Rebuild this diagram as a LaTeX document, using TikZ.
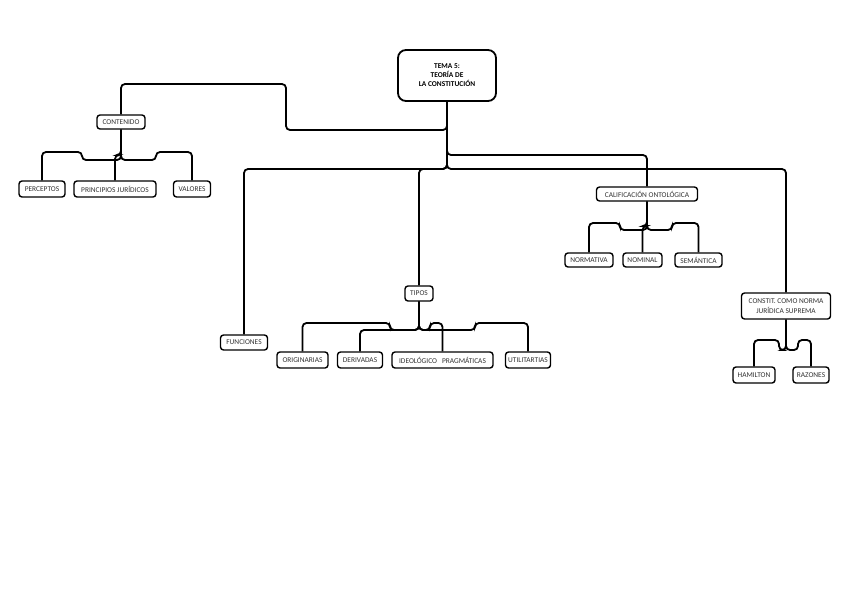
\documentclass[tikz,border=0pt]{standalone}
\usepackage{fontspec}
\setmainfont{Carlito}
\begin{document}
\begin{tikzpicture}[x=1pt,y=-1pt,
  box/.style={draw=black,line width=1.4pt,rounded corners=3pt,inner sep=0pt,align=center,font=\fontsize{7.4}{8.4}\selectfont,text=black!80},
  link/.style={draw=black,line width=1.8pt,rounded corners=4pt}]
\useasboundingbox[fill=white] (0,0) rectangle (848,600);
% nodes
\node[box,minimum width=98pt,minimum height=51pt,rounded corners=8pt,line width=1.8pt,font=\bfseries\fontsize{7.4}{9}\selectfont,text=black] (tema) at (447,75.5) {TEMA 5:\\TEORÍA DE\\LA CONSTITUCIÓN};
\node[box,minimum width=48pt,minimum height=14pt] (contenido) at (121,122) {CONTENIDO};
\node[box,minimum width=46pt,minimum height=16pt] (perceptos) at (42,189) {PERCEPTOS};
\node[box,minimum width=82pt,minimum height=16pt] (principios) at (115,189) {PRINCIPIOS JURÍDICOS};
\node[box,minimum width=37pt,minimum height=16pt] (valores) at (192,189) {VALORES};
\node[box,minimum width=47pt,minimum height=15pt] (funciones) at (244,342.5) {FUNCIONES};
\node[box,minimum width=28pt,minimum height=15pt] (tipos) at (419,293.5) {TIPOS};
\node[box,minimum width=51pt,minimum height=16pt] (originarias) at (302.5,360) {ORIGINARIAS};
\node[box,minimum width=45pt,minimum height=16pt] (derivadas) at (360,360) {DERIVADAS};
\node[box,minimum width=101pt,minimum height=16pt] (ideo) at (442.5,360) {IDEOLÓGICO\hspace{5pt}PRAGMÁTICAS};
\node[box,minimum width=45pt,minimum height=16pt] (util) at (528,360) {UTILITARTIAS};
\node[box,minimum width=101pt,minimum height=14pt] (calif) at (647,194) {CALIFICACIÓN ONTOLÓGICA};
\node[box,minimum width=48pt,minimum height=14pt] (normativa) at (589,260) {NORMATIVA};
\node[box,minimum width=39pt,minimum height=14pt] (nominal) at (642.5,260) {NOMINAL};
\node[box,minimum width=47pt,minimum height=14pt] (semantica) at (698.5,260) {SEMÁNTICA};
\node[box,minimum width=89pt,minimum height=26pt,font=\fontsize{7.4}{9.5}\selectfont] (constit) at (786,306) {CONSTIT. COMO NORMA\\JURÍDICA SUPREMA};
\node[box,minimum width=42pt,minimum height=16pt] (hamilton) at (754,375) {HAMILTON};
\node[box,minimum width=36pt,minimum height=16pt] (razones) at (811,375) {RAZONES};
% main connectors
\draw[link] (tema.south) -- (447,130) -- (286,130) -- (286,84) -- (121,84) -- (contenido.north);
\draw[link] (tema.south) -- (447,169) -- (244,169) -- (funciones.north);
\draw[link] (tema.south) -- (447,169) -- (419,169) -- (tipos.north);
\draw[link] (tema.south) -- (447,155) -- (647,155) -- (calif.north);
\draw[link] (tema.south) -- (447,169) -- (786,169) -- (constit.north);
% contenido
\draw[link] (contenido.south) -- (121,160) -- (82,160) -- (82,152) -- (42,152) -- (perceptos.north);
\draw[link] (contenido.south) -- (121,160) -- (156,160) -- (156,152) -- (192,152) -- (valores.north);
\draw[link] (contenido.south) -- (121,155) -- (115,155) -- (principios.north);
% calificacion
\draw[link] (calif.south) -- (647,230) -- (620,230) -- (620,223) -- (589,223) -- (normativa.north);
\draw[link] (calif.south) -- (647,230) -- (672,230) -- (672,223) -- (698.5,223) -- (semantica.north);
\draw[link] (calif.south) -- (647,226) -- (642.5,226) -- (nominal.north);
% tipos
\draw[link] (tipos.south) -- (419,330) -- (390,330) -- (390,323) -- (302.5,323) -- (originarias.north);
\draw[link] (tipos.south) -- (419,330) -- (360,330) -- (derivadas.north);
\draw[link] (tipos.south) -- (419,330) -- (430,330) -- (430,323) -- (442.5,323) -- (ideo.north);
\draw[link] (tipos.south) -- (419,330) -- (475,330) -- (475,323) -- (528,323) -- (util.north);
% constit
\draw[link] (constit.south) -- (786,350) -- (779,350) -- (779,340) -- (754,340) -- (hamilton.north);
\draw[link] (constit.south) -- (786,350) -- (798,350) -- (798,340) -- (811,340) -- (razones.north);
\end{tikzpicture}
\end{document}
